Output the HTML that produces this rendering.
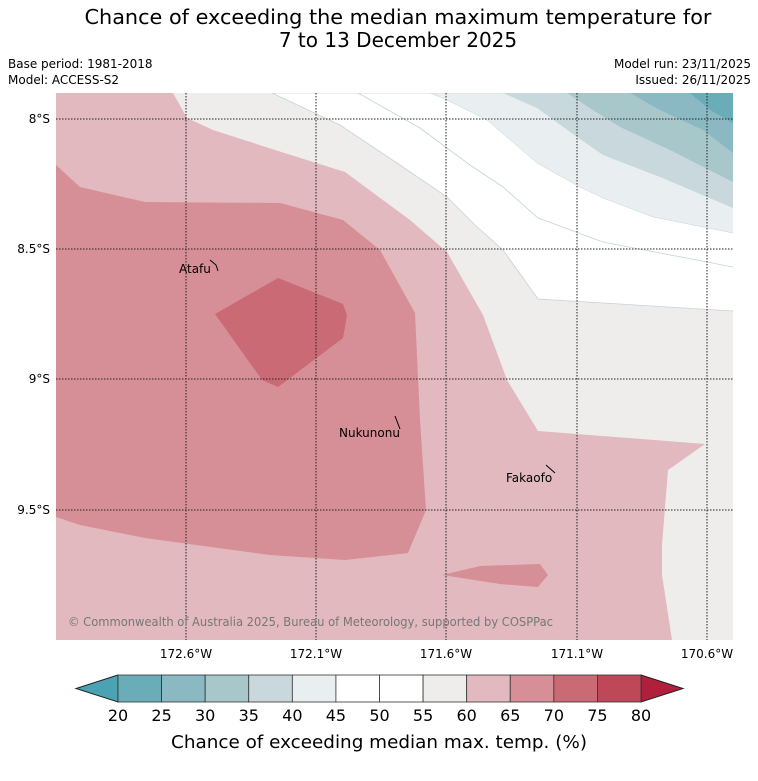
<!DOCTYPE html>
<html><head><meta charset="utf-8"><style>
body{margin:0;background:#fff;width:758px;height:781px;overflow:hidden;font-family:"Liberation Sans","DejaVu Sans",sans-serif}
svg{display:block}
</style></head><body>
<svg id="s" width="758" height="781" xmlns="http://www.w3.org/2000/svg" font-family="DejaVu Sans, Liberation Sans, sans-serif">
<text x="398" y="24" font-size="20" text-anchor="middle" textLength="627" lengthAdjust="spacingAndGlyphs">Chance of exceeding the median maximum temperature for</text>
<text x="398" y="47" font-size="20" text-anchor="middle">7 to 13 December 2025</text>
<text x="8" y="68" font-size="12">Base period: 1981-2018</text>
<text x="8" y="84" font-size="12">Model: ACCESS-S2</text>
<text x="751" y="68" font-size="12" text-anchor="end">Model run: 23/11/2025</text>
<text x="751" y="84" font-size="12" text-anchor="end">Issued: 26/11/2025</text>
<defs><clipPath id="mc"><rect x="56" y="93" width="677" height="547"/></clipPath></defs>
<g clip-path="url(#mc)">
<rect x="56" y="93" width="677" height="547" fill="#e1b9be"/>
<polygon fill="#eeedeb" points="173,93 187,118 213,130 275,150 345,172 410,220 447,252 483,315 507,380 538,431 705,444 668,470 662,545 662,575 672,640 740,640 740,93"/>
<polygon fill="#ffffff" stroke="#c5d3d8" stroke-width="0.8" points="272,93 340,125 400,165 447,197 475,225 503,250 538,299 733,311 740,311 740,93"/>
<polyline fill="none" stroke="#c5d3d8" stroke-width="0.8" points="358,93 420,128 470,165 503,187 538,218 603,242 733,267"/>
<polygon fill="#e9eff1" stroke="#c5d3d8" stroke-width="0.5" points="430,93 447,100 487,120 537,163 580,187 603,198 653,217 733,233 740,233 740,93"/>
<polygon fill="#c8d8dd" points="503,93 537,108 577,137 603,155 660,177 733,208 740,208 740,93"/>
<polygon fill="#a8c7cb" points="567,93 593,110 620,127 670,150 733,182 740,182 740,93"/>
<polygon fill="#8ab8c3" points="630,93 660,110 703,130 733,153 740,153 740,93"/>
<polygon fill="#6aadb8" points="690,93 710,110 733,123 740,123 740,93"/>
<polygon fill="#d78f97" points="50,160 56,165 80,187 145,202 280,203 343,220 380,250 415,313 420,420 426,510 408,553 345,560 270,555 145,538 80,525 50,515"/>
<polygon fill="#d78f97" points="442,575 480,566 540,564 548,575 538,587 500,584"/>
<polygon fill="#c96a75" points="215,314 278,278 343,304 347,315 343,338 278,387 262,380"/>
<g stroke="#222" stroke-width="1" stroke-dasharray="1.5,1.5">
<line x1="186" y1="93" x2="186" y2="640"/><line x1="316" y1="93" x2="316" y2="640"/><line x1="446" y1="93" x2="446" y2="640"/><line x1="577" y1="93" x2="577" y2="640"/><line x1="707" y1="93" x2="707" y2="640"/>
<line x1="56" y1="119" x2="733" y2="119"/><line x1="56" y1="249" x2="733" y2="249"/><line x1="56" y1="379" x2="733" y2="379"/><line x1="56" y1="510" x2="733" y2="510"/>
</g>
<g stroke="#000" stroke-width="1" fill="none">
<polyline points="210,260 216,265 218,271"/><line x1="395" y1="416" x2="400" y2="429"/><line x1="546" y1="465" x2="555" y2="473"/>
</g>
<text x="179" y="273" font-size="12">Atafu</text>
<text x="339" y="437" font-size="12">Nukunonu</text>
<text x="506" y="482" font-size="12">Fakaofo</text>
<text x="68" y="626" font-size="12" fill="#777" textLength="485" lengthAdjust="spacingAndGlyphs">© Commonwealth of Australia 2025, Bureau of Meteorology, supported by COSPPac</text>
</g>
<g font-size="12" text-anchor="end">
<text x="50" y="123">8°S</text><text x="50" y="253">8.5°S</text><text x="50" y="383">9°S</text><text x="50" y="514">9.5°S</text>
</g>
<g font-size="12" text-anchor="middle">
<text x="186" y="658">172.6°W</text><text x="316" y="658">172.1°W</text><text x="446" y="658">171.6°W</text><text x="577" y="658">171.1°W</text><text x="707" y="658">170.6°W</text>
</g>
<g id="cbar"></g>
<text x="379" y="748" font-size="18" text-anchor="middle" textLength="416" lengthAdjust="spacingAndGlyphs">Chance of exceeding median max. temp. (%)</text>
</svg>
<script>
const levels=[20,25,30,35,40,45,50,55,60,65,70,75,80];
const colors=["#6aadb8","#8ab8c3","#a8c7cb","#c8d8dd","#e9eff1","#ffffff","#ffffff","#eeedeb","#e1b9be","#d78f97","#c96a75","#be4858"];
const under="#4aa2b2", over="#b01f3b";
const NS="http://www.w3.org/2000/svg";
const g=document.getElementById('cbar');
const x0=118,x1=641,y0=675,y1=702;
const xs=v=>x0+(v-levels[0])/(levels[levels.length-1]-levels[0])*(x1-x0);
function mk(t,a){const e=document.createElementNS(NS,t);for(const k in a)e.setAttribute(k,a[k]);g.appendChild(e);return e;}
const u=mk('polygon',{points:`${x0},${y0} 76,${(y0+y1)/2} ${x0},${y1}`,fill:under,stroke:'#222','stroke-width':1});


const o=mk('polygon',{points:`${x1},${y0} 683,${(y0+y1)/2} ${x1},${y1}`,fill:over,stroke:'#222','stroke-width':1});


colors.forEach((c,i)=>{
 const r=mk('rect',{x:xs(levels[i]),y:y0,width:xs(levels[i+1])-xs(levels[i]),height:y1-y0,fill:c,stroke:'#333','stroke-width':0.8});
 
 
});
levels.forEach(v=>{
 const t=mk('text',{x:xs(v),y:721,'font-size':16,'text-anchor':'middle'});
 t.textContent=v;
 
 
});
</script>
</body></html>
